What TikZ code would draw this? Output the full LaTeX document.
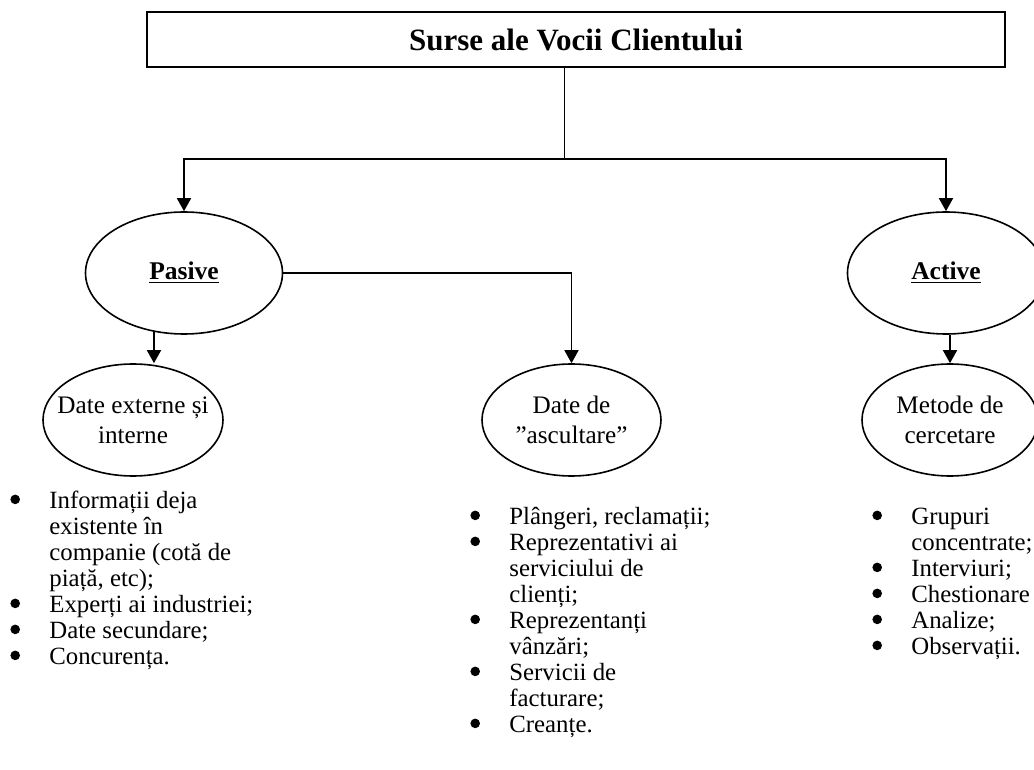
\documentclass[tikz,border=0pt]{standalone}
\usepackage{fontspec}
\setmainfont{Liberation Serif}
\usetikzlibrary{shapes.geometric,arrows.meta}
\newcommand\mybul{\makebox[19.5pt][l]{\tikz[baseline=0pt,x=1cm,y=1cm]\fill (0,4.3pt) circle (2.4pt);}}
\newcommand\myind{\hspace*{19.5pt}}
\newcommand\tightls{\lineskiplimit=-20pt\relax}
\begin{document}
\begin{tikzpicture}[x=0.5pt,y=-0.5pt,
  arr/.style={line width=0.8pt,-{Triangle[width=7pt,length=6.5pt]}},
  oval/.style={ellipse,draw,line width=0.8pt,inner sep=0pt},
  bigoval/.style={oval,minimum width=98.5pt,minimum height=61pt,font={\fontsize{12.75pt}{15pt}\selectfont\bfseries}},
  ovaltext/.style={align=center,inner sep=0pt,font={\fontsize{12.6pt}{15pt}\selectfont\tightls}},
  listA/.style={anchor=base west,inner sep=0pt,align=left,font={\fontsize{12.4pt}{13pt}\selectfont\tightls}}]
\useasboundingbox (0,0) rectangle (1034,770);
\clip (0,0) rectangle (1034,770);

\node[draw,line width=0.8pt,minimum width=429pt,minimum height=27.5pt,inner sep=0pt,
  font={\fontsize{15.5pt}{18pt}\selectfont\bfseries}] (title) at (576,39.5) {Surse ale Vocii Clientului};

\node[bigoval] (pasive) at (184,273) {\underline{Pasive}};
\node[bigoval] (active) at (946,273) {\underline{Active}};

\node[oval,minimum width=90pt,minimum height=56pt] (datex) at (133,420) {};
\node[ovaltext] (datexT) at (datex) {Date externe și\\interne};
\node[oval,minimum width=89.5pt,minimum height=56pt] (ascult) at (571.5,420) {};
\node[ovaltext] (ascultT) at (ascult) {Date de\\”ascultare”};
\node[oval,minimum width=88pt,minimum height=56pt] (metode) at (950,420) {};
\node[ovaltext] (metodeT) at (metode) {Metode de\\cercetare};

\coordinate (j) at (564,159);
\draw[line width=0.5pt] (title.south -| j) -- (j);
\draw[arr] (j) -| (pasive.north);
\draw[arr] (j) -| (active.north);
\draw[arr] (pasive.243) -- (pasive.243 |- datex.north);
\draw[arr] (pasive.east) -| (ascult.north);
\draw[arr] (metode.north |- active.south) -- (metode.north);

% anchor base = baseline of the last line
\node[listA] (l1) at (10,664) {\mybul Informații deja\\
\myind existente în\\
\myind companie (cotă de\\
\myind piață, etc);\\
\mybul Experți ai industriei;\\
\mybul Date secundare;\\
\mybul Concurența.};

\node[listA] (l2) at (470,732) {\mybul Plângeri, reclamații;\\
\mybul Reprezentativi ai\\
\myind serviciului de\\
\myind clienți;\\
\mybul Reprezentanți\\
\myind vânzări;\\
\mybul Servicii de\\
\myind facturare;\\
\mybul Creanțe.};

\node[listA] (l3) at (872,654) {\mybul Grupuri\\
\myind concentrate;\\
\mybul Interviuri;\\
\mybul Chestionare\\
\mybul Analize;\\
\mybul Observații.};
\end{tikzpicture}
\end{document}
